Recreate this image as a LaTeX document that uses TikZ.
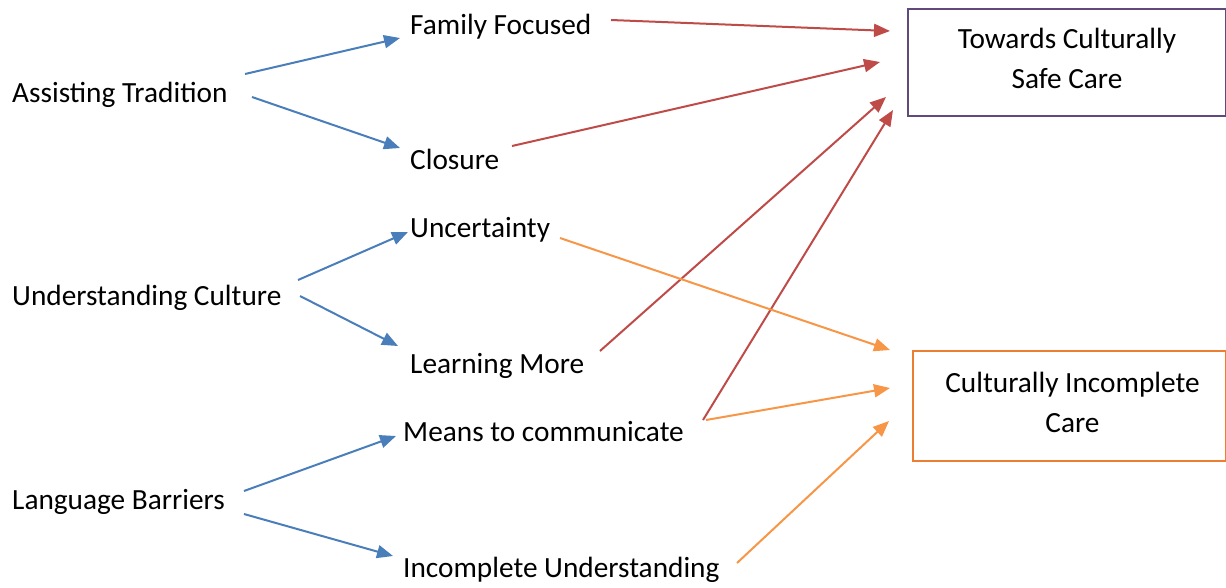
\documentclass[tikz,border=0pt]{standalone}
\usepackage{fontspec}
\setmainfont{Carlito}
\usetikzlibrary{arrows.meta}
\definecolor{cblue}{HTML}{4A7EBB}
\definecolor{cred}{HTML}{BE4B48}
\definecolor{corange}{HTML}{F79646}
\definecolor{bpurple}{HTML}{604A7B}
\definecolor{borange}{HTML}{ED7D31}
\tikzset{
  lbl/.style={inner sep=0pt, anchor=base west, font=\fontsize{29.3}{40}\selectfont},
  arr/.style={line width=2pt, -{Triangle[length=16pt,width=13pt]}},
  barr/.style={arr, draw=cblue, fill=cblue},
  rarr/.style={arr, draw=cred, fill=cred},
  oarr/.style={arr, draw=corange, fill=corange},
  outbox/.style={draw, line width=2pt, inner sep=0pt, anchor=north west},
  boxtext/.style={align=center, inner sep=0pt, yshift=4pt, font=\fontsize{29.3}{40}\selectfont}
}
\begin{document}
\begin{tikzpicture}[x=1pt,y=-1pt]
\useasboundingbox (0,0) rectangle (1226,587);
% left column
\node[lbl] (at) at (12,102) {Assisting Tradition};
\node[lbl] (uc) at (12,305) {Understanding Culture};
\node[lbl] (lb) at (12,509) {Language Barriers};
% middle column
\node[lbl] (ff) at (410,34) {Family Focused};
\node[lbl] (cl) at (410,169) {Closure};
\node[lbl] (un) at (410,237) {Uncertainty};
\node[lbl] (lm) at (410,373) {Learning More};
\node[lbl] (mc) at (403,441) {Means to communicate};
\node[lbl] (iu) at (403,577) {Incomplete Understanding};
% outcome boxes
\node[outbox, draw=bpurple, minimum width=318pt, minimum height=107pt,
  label={[boxtext]center:Towards Culturally\\Safe Care}] (safe) at (907,8) {};
\node[outbox, draw=borange, minimum width=313pt, minimum height=110pt,
  label={[boxtext, xshift=3pt]center:Culturally Incomplete\\Care}] (inc) at (912,350) {};
% blue arrows
\draw[barr] ([shift={(233,-28)}]at.base west) -- ([shift={(-10,4)}]ff.base west);
\draw[barr] ([shift={(240,-5)}]at.base west) -- ([shift={(-10,-21)}]cl.base west);
\draw[barr] ([shift={(286,-25)}]uc.base west) -- ([shift={(-2,-5)}]un.base west);
\draw[barr] ([shift={(288,-9)}]uc.base west) -- ([shift={(-12,-27)}]lm.base west);
\draw[barr] ([shift={(232,-18)}]lb.base west) -- ([shift={(-7,-5)}]mc.base west);
\draw[barr] ([shift={(232,5)}]lb.base west) -- ([shift={(-10,-21)}]iu.base west);
% red arrows
\draw[rarr] ([shift={(201,-14)}]ff.base west) -- ([shift={(-17,23)}]safe.north west);
\draw[rarr] ([shift={(102,-23)}]cl.base west) -- ([shift={(-27,54)}]safe.north west);
\draw[rarr] ([shift={(190,-22)}]lm.base west) -- ([shift={(-21,89)}]safe.north west);
\draw[rarr] ([shift={(300,-21)}]mc.base west) -- ([shift={(-14,102)}]safe.north west);
% orange arrows
\draw[oarr] ([shift={(150,1)}]un.base west) -- ([shift={(-22,0)}]inc.north west);
\draw[oarr] ([shift={(303,-21)}]mc.base west) -- ([shift={(-22,38)}]inc.north west);
\draw[oarr] ([shift={(334,-14)}]iu.base west) -- ([shift={(-23,71)}]inc.north west);
\end{tikzpicture}
\end{document}
